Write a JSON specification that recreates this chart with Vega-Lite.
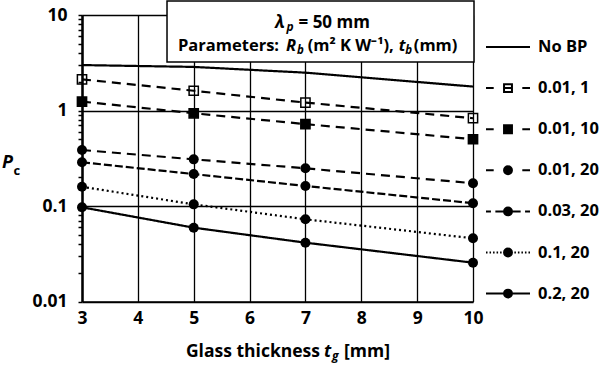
{
  "$schema": "https://vega.github.io/schema/vega-lite/v6.json",
  "width": 391,
  "height": 286.5,
  "autosize": {"type": "none"},
  "padding": {"left": 82, "top": 15, "right": 127, "bottom": 65.5},
  "background": "white",
  "config": {
    "view": {"stroke": null},
    "font": "Open Sans",
    "axis": {"labelFont": "Open Sans", "labelFontSize": 17.5, "labelFontWeight": "bold", "labelColor": "black", "titleFont": "Open Sans"}
  },
  "datasets": {
    "pc": [
      {"series": "No BP", "x": 3, "y": 2.99}, {"series": "No BP", "x": 5, "y": 2.86}, {"series": "No BP", "x": 7, "y": 2.49}, {"series": "No BP", "x": 10, "y": 1.78},
      {"series": "0.01, 1", "x": 3, "y": 2.12}, {"series": "0.01, 1", "x": 5, "y": 1.61}, {"series": "0.01, 1", "x": 7, "y": 1.21}, {"series": "0.01, 1", "x": 10, "y": 0.83},
      {"series": "0.01, 10", "x": 3, "y": 1.24}, {"series": "0.01, 10", "x": 5, "y": 0.935}, {"series": "0.01, 10", "x": 7, "y": 0.72}, {"series": "0.01, 10", "x": 10, "y": 0.5},
      {"series": "0.01, 20", "x": 3, "y": 0.386}, {"series": "0.01, 20", "x": 5, "y": 0.308}, {"series": "0.01, 20", "x": 7, "y": 0.248}, {"series": "0.01, 20", "x": 10, "y": 0.173},
      {"series": "0.03, 20", "x": 3, "y": 0.287}, {"series": "0.03, 20", "x": 5, "y": 0.216}, {"series": "0.03, 20", "x": 7, "y": 0.162}, {"series": "0.03, 20", "x": 10, "y": 0.107},
      {"series": "0.1, 20", "x": 3, "y": 0.159}, {"series": "0.1, 20", "x": 5, "y": 0.104}, {"series": "0.1, 20", "x": 7, "y": 0.0726}, {"series": "0.1, 20", "x": 10, "y": 0.0459},
      {"series": "0.2, 20", "x": 3, "y": 0.0969}, {"series": "0.2, 20", "x": 5, "y": 0.0593}, {"series": "0.2, 20", "x": 7, "y": 0.0413}, {"series": "0.2, 20", "x": 10, "y": 0.0255}
    ],
    "notes": [
      {"t": "note"}
    ]
  },
  "layer": [
    {
      "data": {"name": "pc"},
      "mark": {"type": "line", "stroke": "black", "strokeWidth": 2.2},
      "encoding": {
        "x": {
          "field": "x", "type": "quantitative",
          "scale": {"domain": [3, 10], "nice": false, "zero": false},
          "axis": {
            "title": null, "values": [3, 4, 5, 6, 7, 8, 9, 10], "format": "d",
            "grid": true, "gridColor": "black", "gridWidth": 1.3,
            "domainColor": "black", "domainWidth": 1.5,
            "ticks": false, "labelPadding": 8, "labelFlush": false
          }
        },
        "y": {
          "field": "y", "type": "quantitative",
          "scale": {"type": "log", "domain": [0.01, 10], "nice": false},
          "axis": {
            "title": null,
            "values": [0.01, 0.02, 0.03, 0.04, 0.05, 0.06, 0.07, 0.08, 0.09, 0.1, 0.2, 0.3, 0.4, 0.5, 0.6, 0.7, 0.8, 0.9, 1, 2, 3, 4, 5, 6, 7, 8, 9, 10],
            "format": "~g",
            "labelExpr": "indexof([0.01, 0.1, 1, 10], datum.value) >= 0 ? datum.label : ''",
            "grid": true,
            "gridColor": {"condition": {"test": "indexof([0.01, 0.1, 1, 10], datum.value) < 0", "value": "transparent"}, "value": "black"},
            "gridWidth": 1.3,
            "domainColor": "black", "domainWidth": 2.5,
            "tickColor": "black", "tickSize": 4, "tickWidth": 1.5,
            "labelPadding": 11, "labelFlush": false
          }
        },
        "detail": {"field": "series"},
        "strokeDash": {
          "field": "series", "type": "nominal", "legend": null,
          "scale": {
            "range": [[9, 6], [9, 6], [9, 6], [8, 3], [2, 3], [1, 0], [1, 0]]
          }
        }
      }
    },
    {
      "data": {"name": "pc"},
      "transform": [{"filter": "datum.series === '0.01, 1' || datum.series === '0.01, 10'"}],
      "mark": {"type": "square", "size": 85, "stroke": "black", "strokeWidth": 1.5, "opacity": 1},
      "encoding": {
        "x": {"field": "x", "type": "quantitative"},
        "y": {"field": "y", "type": "quantitative"},
        "fill": {"condition": {"test": "datum.series === '0.01, 1'", "value": "transparent"}, "value": "black"}
      }
    },
    {
      "data": {"name": "pc"},
      "transform": [{"filter": "datum.series !== '0.01, 1' && datum.series !== '0.01, 10' && datum.series !== 'No BP'"}],
      "mark": {"type": "circle", "size": 100, "fill": "black", "opacity": 1},
      "encoding": {
        "x": {"field": "x", "type": "quantitative"},
        "y": {"field": "y", "type": "quantitative"}
      }
    },
    {
      "data": {"name": "pc"},
      "mark": {"type": "point", "size": 0, "stroke": "black", "strokeWidth": 2, "opacity": 1},
      "encoding": {
        "x": {"field": "x", "type": "quantitative"},
        "y": {"field": "y", "type": "quantitative"},
        "shape": {
          "field": "series", "type": "nominal",
          "scale": {
            "domain": ["No BP", "0.01, 1", "0.01, 10", "0.01, 20", "0.03, 20", "0.1, 20", "0.2, 20"],
            "range": [
              "M-2,0H2",
              "M-2,0H-1.3M1.3,0H2M-0.36,-0.36H0.36V0.36H-0.36ZM-0.36,0H0.36",
              "M-2,0H-1.3M1.3,0H2M-0.36,-0.36H0.36V0.36H-0.36ZM-0.27,-0.27H0.27V0.27H-0.27ZM-0.18,-0.18H0.18V0.18H-0.18ZM-0.09,-0.09H0.09V0.09H-0.09ZM-0.04,0H0.04",
              "M-2,0H-1.3M1.3,0H2M-0.36,0A0.36,0.36 0 1,1 0.36,0A0.36,0.36 0 1,1 -0.36,0ZM-0.27,0A0.27,0.27 0 1,1 0.27,0A0.27,0.27 0 1,1 -0.27,0ZM-0.18,0A0.18,0.18 0 1,1 0.18,0A0.18,0.18 0 1,1 -0.18,0ZM-0.09,0A0.09,0.09 0 1,1 0.09,0A0.09,0.09 0 1,1 -0.09,0ZM-0.04,0H0.04",
              "M-2,0H-1.55M-1.15,0H-0.36M0.36,0H1.15M1.55,0H2M-0.36,0A0.36,0.36 0 1,1 0.36,0A0.36,0.36 0 1,1 -0.36,0ZM-0.27,0A0.27,0.27 0 1,1 0.27,0A0.27,0.27 0 1,1 -0.27,0ZM-0.18,0A0.18,0.18 0 1,1 0.18,0A0.18,0.18 0 1,1 -0.18,0ZM-0.09,0A0.09,0.09 0 1,1 0.09,0A0.09,0.09 0 1,1 -0.09,0ZM-0.04,0H0.04",
              "M-2,0H-1.86M-1.68,0H-1.54M-1.36,0H-1.22M-1.04,0H-0.9M-0.72,0H-0.58M0.58,0H0.72M0.9,0H1.04M1.22,0H1.36M1.54,0H1.68M1.86,0H2M-0.36,0A0.36,0.36 0 1,1 0.36,0A0.36,0.36 0 1,1 -0.36,0ZM-0.27,0A0.27,0.27 0 1,1 0.27,0A0.27,0.27 0 1,1 -0.27,0ZM-0.18,0A0.18,0.18 0 1,1 0.18,0A0.18,0.18 0 1,1 -0.18,0ZM-0.09,0A0.09,0.09 0 1,1 0.09,0A0.09,0.09 0 1,1 -0.09,0ZM-0.04,0H0.04",
              "M-2,0H2M-0.36,0A0.36,0.36 0 1,1 0.36,0A0.36,0.36 0 1,1 -0.36,0ZM-0.27,0A0.27,0.27 0 1,1 0.27,0A0.27,0.27 0 1,1 -0.27,0ZM-0.18,0A0.18,0.18 0 1,1 0.18,0A0.18,0.18 0 1,1 -0.18,0ZM-0.09,0A0.09,0.09 0 1,1 0.09,0A0.09,0.09 0 1,1 -0.09,0ZM-0.04,0H0.04"
            ]
          },
          "legend": {
            "title": null, "orient": "none", "legendX": 414, "legendY": 20, "padding": 0,
            "symbolSize": 484, "symbolStrokeWidth": 2, "symbolStrokeColor": "black", "symbolOpacity": 1,
            "labelFont": "Open Sans", "labelFontSize": 16.5, "labelFontWeight": "bold", "labelColor": "black",
            "labelOffset": 18, "rowPadding": 20.1, "labelLimit": 200,
            "encode": {
              "symbols": {
                "stroke": {"value": "black"},
                "strokeWidth": {"value": 2},
                "size": {"value": 484}
              }
            }
          }
        }
      }
    },
    {
      "data": {"name": "notes"},
      "mark": {"type": "rect", "fill": "white", "stroke": "black", "strokeWidth": 1.5},
      "encoding": {"x": {"datum": 4.522}, "x2": {"datum": 10.018}, "y": {"datum": 3.22}, "y2": {"datum": 14.0}}
    },
    {
      "data": {"name": "notes"},
      "mark": {"type": "text", "text": "λ", "align": "left", "baseline": "alphabetic", "fontSize": 17, "fontWeight": "bold", "fontStyle": "italic", "font": "Open Sans"},
      "encoding": {"x": {"datum": 6.4553}, "y": {"datum": 7.3}}
    },
    {
      "data": {"name": "notes"},
      "mark": {"type": "text", "text": "p", "align": "left", "baseline": "alphabetic", "fontSize": 12, "fontWeight": "bold", "fontStyle": "italic", "font": "Open Sans", "dy": 3},
      "encoding": {"x": {"datum": 6.6612}, "y": {"datum": 7.3}}
    },
    {
      "data": {"name": "notes"},
      "mark": {"type": "text", "text": "= 50 mm", "align": "left", "baseline": "alphabetic", "fontSize": 17, "fontWeight": "bold", "font": "Open Sans"},
      "encoding": {"x": {"datum": 6.876}, "y": {"datum": 7.3}}
    },
    {
      "data": {"name": "notes"},
      "mark": {"type": "text", "text": "Parameters:", "align": "left", "baseline": "alphabetic", "fontSize": 16.5, "fontWeight": "bold", "font": "Open Sans"},
      "encoding": {"x": {"datum": 4.7187}, "y": {"datum": 4.15}}
    },
    {
      "data": {"name": "notes"},
      "mark": {"type": "text", "text": "R", "align": "left", "baseline": "alphabetic", "fontSize": 16.5, "fontWeight": "bold", "fontStyle": "italic", "font": "Open Sans"},
      "encoding": {"x": {"datum": 6.6522}, "y": {"datum": 4.15}}
    },
    {
      "data": {"name": "notes"},
      "mark": {"type": "text", "text": "b", "align": "left", "baseline": "alphabetic", "fontSize": 11.5, "fontWeight": "bold", "fontStyle": "italic", "font": "Open Sans", "dy": 3},
      "encoding": {"x": {"datum": 6.8491}, "y": {"datum": 4.15}}
    },
    {
      "data": {"name": "notes"},
      "mark": {"type": "text", "text": "(m² K W⁻¹),", "align": "left", "baseline": "alphabetic", "fontSize": 16.5, "fontWeight": "bold", "font": "Open Sans"},
      "encoding": {"x": {"datum": 7.04}, "y": {"datum": 4.15}}
    },
    {
      "data": {"name": "notes"},
      "mark": {"type": "text", "text": "t", "align": "left", "baseline": "alphabetic", "fontSize": 16.5, "fontWeight": "bold", "fontStyle": "italic", "font": "Open Sans"},
      "encoding": {"x": {"datum": 8.67}, "y": {"datum": 4.15}}
    },
    {
      "data": {"name": "notes"},
      "mark": {"type": "text", "text": "b", "align": "left", "baseline": "alphabetic", "fontSize": 11.5, "fontWeight": "bold", "fontStyle": "italic", "font": "Open Sans", "dy": 3},
      "encoding": {"x": {"datum": 8.785}, "y": {"datum": 4.15}}
    },
    {
      "data": {"name": "notes"},
      "mark": {"type": "text", "text": "(mm)", "align": "left", "baseline": "alphabetic", "fontSize": 16.5, "fontWeight": "bold", "font": "Open Sans"},
      "encoding": {"x": {"datum": 8.94}, "y": {"datum": 4.15}}
    },
    {
      "data": {"name": "notes"},
      "mark": {"type": "text", "text": "Glass thickness", "align": "right", "baseline": "alphabetic", "fontSize": 17.5, "fontWeight": "bold", "font": "Open Sans"},
      "encoding": {"x": {"datum": 7.261}, "y": {"datum": 0.002624}}
    },
    {
      "data": {"name": "notes"},
      "mark": {"type": "text", "text": "t", "align": "left", "baseline": "alphabetic", "fontSize": 17.5, "fontWeight": "bold", "fontStyle": "italic", "font": "Open Sans"},
      "encoding": {"x": {"datum": 7.333}, "y": {"datum": 0.002624}}
    },
    {
      "data": {"name": "notes"},
      "mark": {"type": "text", "text": "g", "align": "left", "baseline": "alphabetic", "fontSize": 12, "fontWeight": "bold", "fontStyle": "italic", "font": "Open Sans", "dy": 3},
      "encoding": {"x": {"datum": 7.476}, "y": {"datum": 0.002624}}
    },
    {
      "data": {"name": "notes"},
      "mark": {"type": "text", "text": "[mm]", "align": "left", "baseline": "alphabetic", "fontSize": 17.5, "fontWeight": "bold", "font": "Open Sans"},
      "encoding": {"x": {"datum": 7.691}, "y": {"datum": 0.002624}}
    },
    {
      "data": {"name": "notes"},
      "mark": {"type": "text", "text": "P", "align": "left", "baseline": "alphabetic", "fontSize": 18, "fontWeight": "bold", "fontStyle": "italic", "font": "Open Sans"},
      "encoding": {"x": {"datum": 1.568}, "y": {"datum": 0.2482}}
    },
    {
      "data": {"name": "notes"},
      "mark": {"type": "text", "text": "c", "align": "left", "baseline": "alphabetic", "fontSize": 13, "fontWeight": "bold", "font": "Open Sans", "dy": 6.5},
      "encoding": {"x": {"datum": 1.774}, "y": {"datum": 0.2482}}
    }
  ]
}
